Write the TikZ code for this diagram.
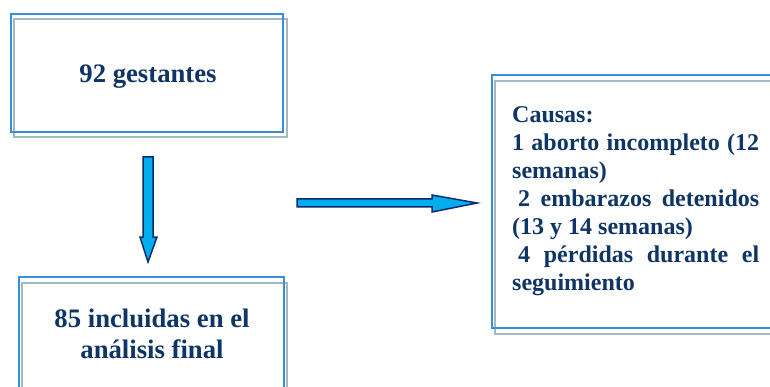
\documentclass[tikz,border=0pt]{standalone}
\usepackage{fontspec}
\setmainfont{Liberation Serif}
\definecolor{boxblue}{HTML}{3A8ED8}
\definecolor{boxgray}{HTML}{A3B8C2}
\definecolor{navy}{HTML}{0E3566}
\definecolor{arrfill}{HTML}{00AEEF}
\definecolor{arrline}{HTML}{0A2A6A}
\tikzset{
  outerbox/.style={draw=boxblue, line width=1.3pt},
  shadowbox/.style={draw=boxgray, line width=1.3pt},
  blockarrow/.style={fill=arrfill, draw=arrline, line width=1.5pt, line join=miter},
  lbl/.style={text=navy, font=\fontsize{26.7}{31}\selectfont\bfseries, align=center, inner sep=0pt},
}
\begin{document}
\begin{tikzpicture}[x=1pt,y=-1pt]
\useasboundingbox (0,0) rectangle (770,387);
\clip (0,0) rectangle (770,387);
% top box
\draw[shadowbox] (14,19) rectangle (287,137);
\draw[outerbox] (11,14) rectangle (283,132);
\node[lbl, anchor=base] (top) at (148,83) {92 gestantes};
% bottom box
\draw[shadowbox] (22,283) rectangle (287,400);
\draw[outerbox] (19,277) rectangle (284,400);
\node[lbl, anchor=base] (bot) at (152,358) {85 incluidas en el\\análisis final};
% right box
\draw[shadowbox] (495,81) rectangle (790,334);
\draw[outerbox] (492,75) rectangle (790,328);
\node[text=navy, anchor=base west, inner sep=0pt, text width=247pt, align=justify,
      font=\fontsize{24}{28}\selectfont\bfseries] (causes) at (512,123)
  {Causas:\\
   1 aborto incompleto (12\linebreak semanas)\\
   \hspace*{0.25em}2 embarazos detenidos\linebreak (13 y 14 semanas)\\
   \hspace*{0.25em}4 pérdidas durante el\linebreak seguimiento};
% vertical arrow
\coordinate (va) at (148,157);
\coordinate (vb) at (148,262);
\draw[blockarrow] (143,157) -- (153,157) -- (153,237) -- (157,237) -- (vb) -- (140,237) -- (143,237) -- cycle;
% horizontal arrow
\coordinate (ha) at (297,203);
\coordinate (hb) at (477,203);
\draw[blockarrow] (297,199) -- (432,199) -- (432,195) -- (hb) -- (432,212) -- (432,207) -- (297,207) -- cycle;
\end{tikzpicture}
\end{document}
